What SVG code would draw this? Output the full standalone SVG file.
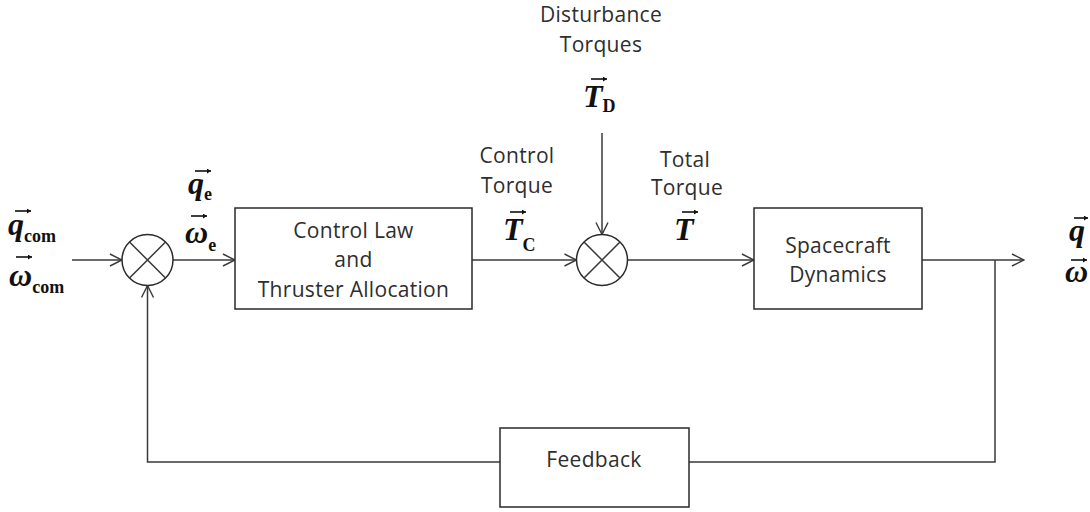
<svg xmlns="http://www.w3.org/2000/svg" width="1090" height="512" viewBox="0 0 1090 512">
<defs>
<style>
.box{fill:#fff;stroke:#2a2a2a;stroke-width:1.5}
.ln{fill:none;stroke:#3a3a3a;stroke-width:1.5}
.txt{font-family:"Open Sans",Lato,"Liberation Sans",sans-serif;font-size:21px;letter-spacing:0.3px;fill:#2e2e2e;text-anchor:middle}
.m{font-family:"Liberation Serif",serif;font-weight:bold;font-style:italic;font-size:32px;fill:#111}
.s{font-family:"Liberation Serif",serif;font-weight:bold;font-style:normal;font-size:18px;fill:#111}
.acc{fill:none;stroke:#111;stroke-width:1.6}
</style>
<marker id="arr" viewBox="0 0 14 14" refX="13" refY="7" markerWidth="14" markerHeight="14" markerUnits="userSpaceOnUse" orient="auto">
<path d="M1,1 L13,7 L1,13" fill="none" stroke="#3a3a3a" stroke-width="1.4"/>
</marker>
<marker id="acc" viewBox="0 0 6 6" refX="5" refY="3" markerWidth="5" markerHeight="5" markerUnits="userSpaceOnUse" orient="auto">
<path d="M0,0 L5,3 L0,6" fill="#111"/>
</marker>
</defs>
<g id="connectors">
<path class="ln" d="M72,260 H122" marker-end="url(#arr)"/>
<path class="ln" d="M173,260 H235" marker-end="url(#arr)"/>
<path class="ln" d="M472,260 H576.5" marker-end="url(#arr)"/>
<path class="ln" d="M602,133 V234.5" marker-end="url(#arr)"/>
<path class="ln" d="M627.5,260 H754" marker-end="url(#arr)"/>
<path class="ln" d="M922,260 H1024" marker-end="url(#arr)"/>
<path class="ln" d="M995,260 V462 H689"/>
<path class="ln" d="M500,462 H147.5 V285.5" marker-end="url(#arr)"/>
</g>
<g id="sum1">
<circle class="box" cx="147.5" cy="260" r="25.5"/>
<path class="ln" d="M129.5,242 L165.5,278 M165.5,242 L129.5,278"/>
</g>
<g id="sum2">
<circle class="box" cx="602" cy="260" r="25.5"/>
<path class="ln" d="M584,242 L620,278 M620,242 L584,278"/>
</g>
<g id="controlLaw">
<rect class="box" x="235" y="208" width="237" height="101"/>
<text class="txt" x="353.5" y="238">Control Law</text>
<text class="txt" x="353.5" y="267">and</text>
<text class="txt" x="353.5" y="297">Thruster Allocation</text>
</g>
<g id="dynamics">
<rect class="box" x="754" y="208" width="168" height="101"/>
<text class="txt" x="838" y="253">Spacecraft</text>
<text class="txt" x="838" y="282">Dynamics</text>
</g>
<g id="feedback">
<rect class="box" x="500" y="428" width="189" height="79"/>
<text class="txt" x="594" y="467">Feedback</text>
</g>
<g id="labels">
<text class="txt" x="601" y="22">Disturbance</text>
<text class="txt" x="601" y="52">Torques</text>
<text class="txt" x="517" y="163">Control</text>
<text class="txt" x="517" y="193">Torque</text>
<text class="txt" x="685" y="167">Total</text>
<text class="txt" x="687" y="195">Torque</text>
</g>
<g id="math">
<text class="m" x="8" y="235">q<tspan class="s" dy="7">com</tspan></text>
<path class="acc" d="M15,211 H31" marker-end="url(#acc)"/>
<text class="m" x="9" y="286">ω<tspan class="s" dy="7">com</tspan></text>
<path class="acc" d="M16,257 H32" marker-end="url(#acc)"/>
<text class="m" x="188" y="194">q<tspan class="s" dy="6">e</tspan></text>
<path class="acc" d="M195,171 H211" marker-end="url(#acc)"/>
<text class="m" x="185" y="243">ω<tspan class="s" dy="8">e</tspan></text>
<path class="acc" d="M191,216 H207" marker-end="url(#acc)"/>
<text class="m" x="583" y="107">T<tspan class="s" dy="5">D</tspan></text>
<path class="acc" d="M591,79 H607" marker-end="url(#acc)"/>
<text class="m" x="503" y="240">T<tspan class="s" dy="11">C</tspan></text>
<path class="acc" d="M510,212 H526" marker-end="url(#acc)"/>
<text class="m" x="674" y="240">T</text>
<path class="acc" d="M682,212 H698" marker-end="url(#acc)"/>
<text class="m" x="1069" y="241">q</text>
<path class="acc" d="M1074,218 H1088" marker-end="url(#acc)"/>
<text class="m" x="1065" y="282">ω</text>
<path class="acc" d="M1071,260 H1087" marker-end="url(#acc)"/>
</g>
</svg>
